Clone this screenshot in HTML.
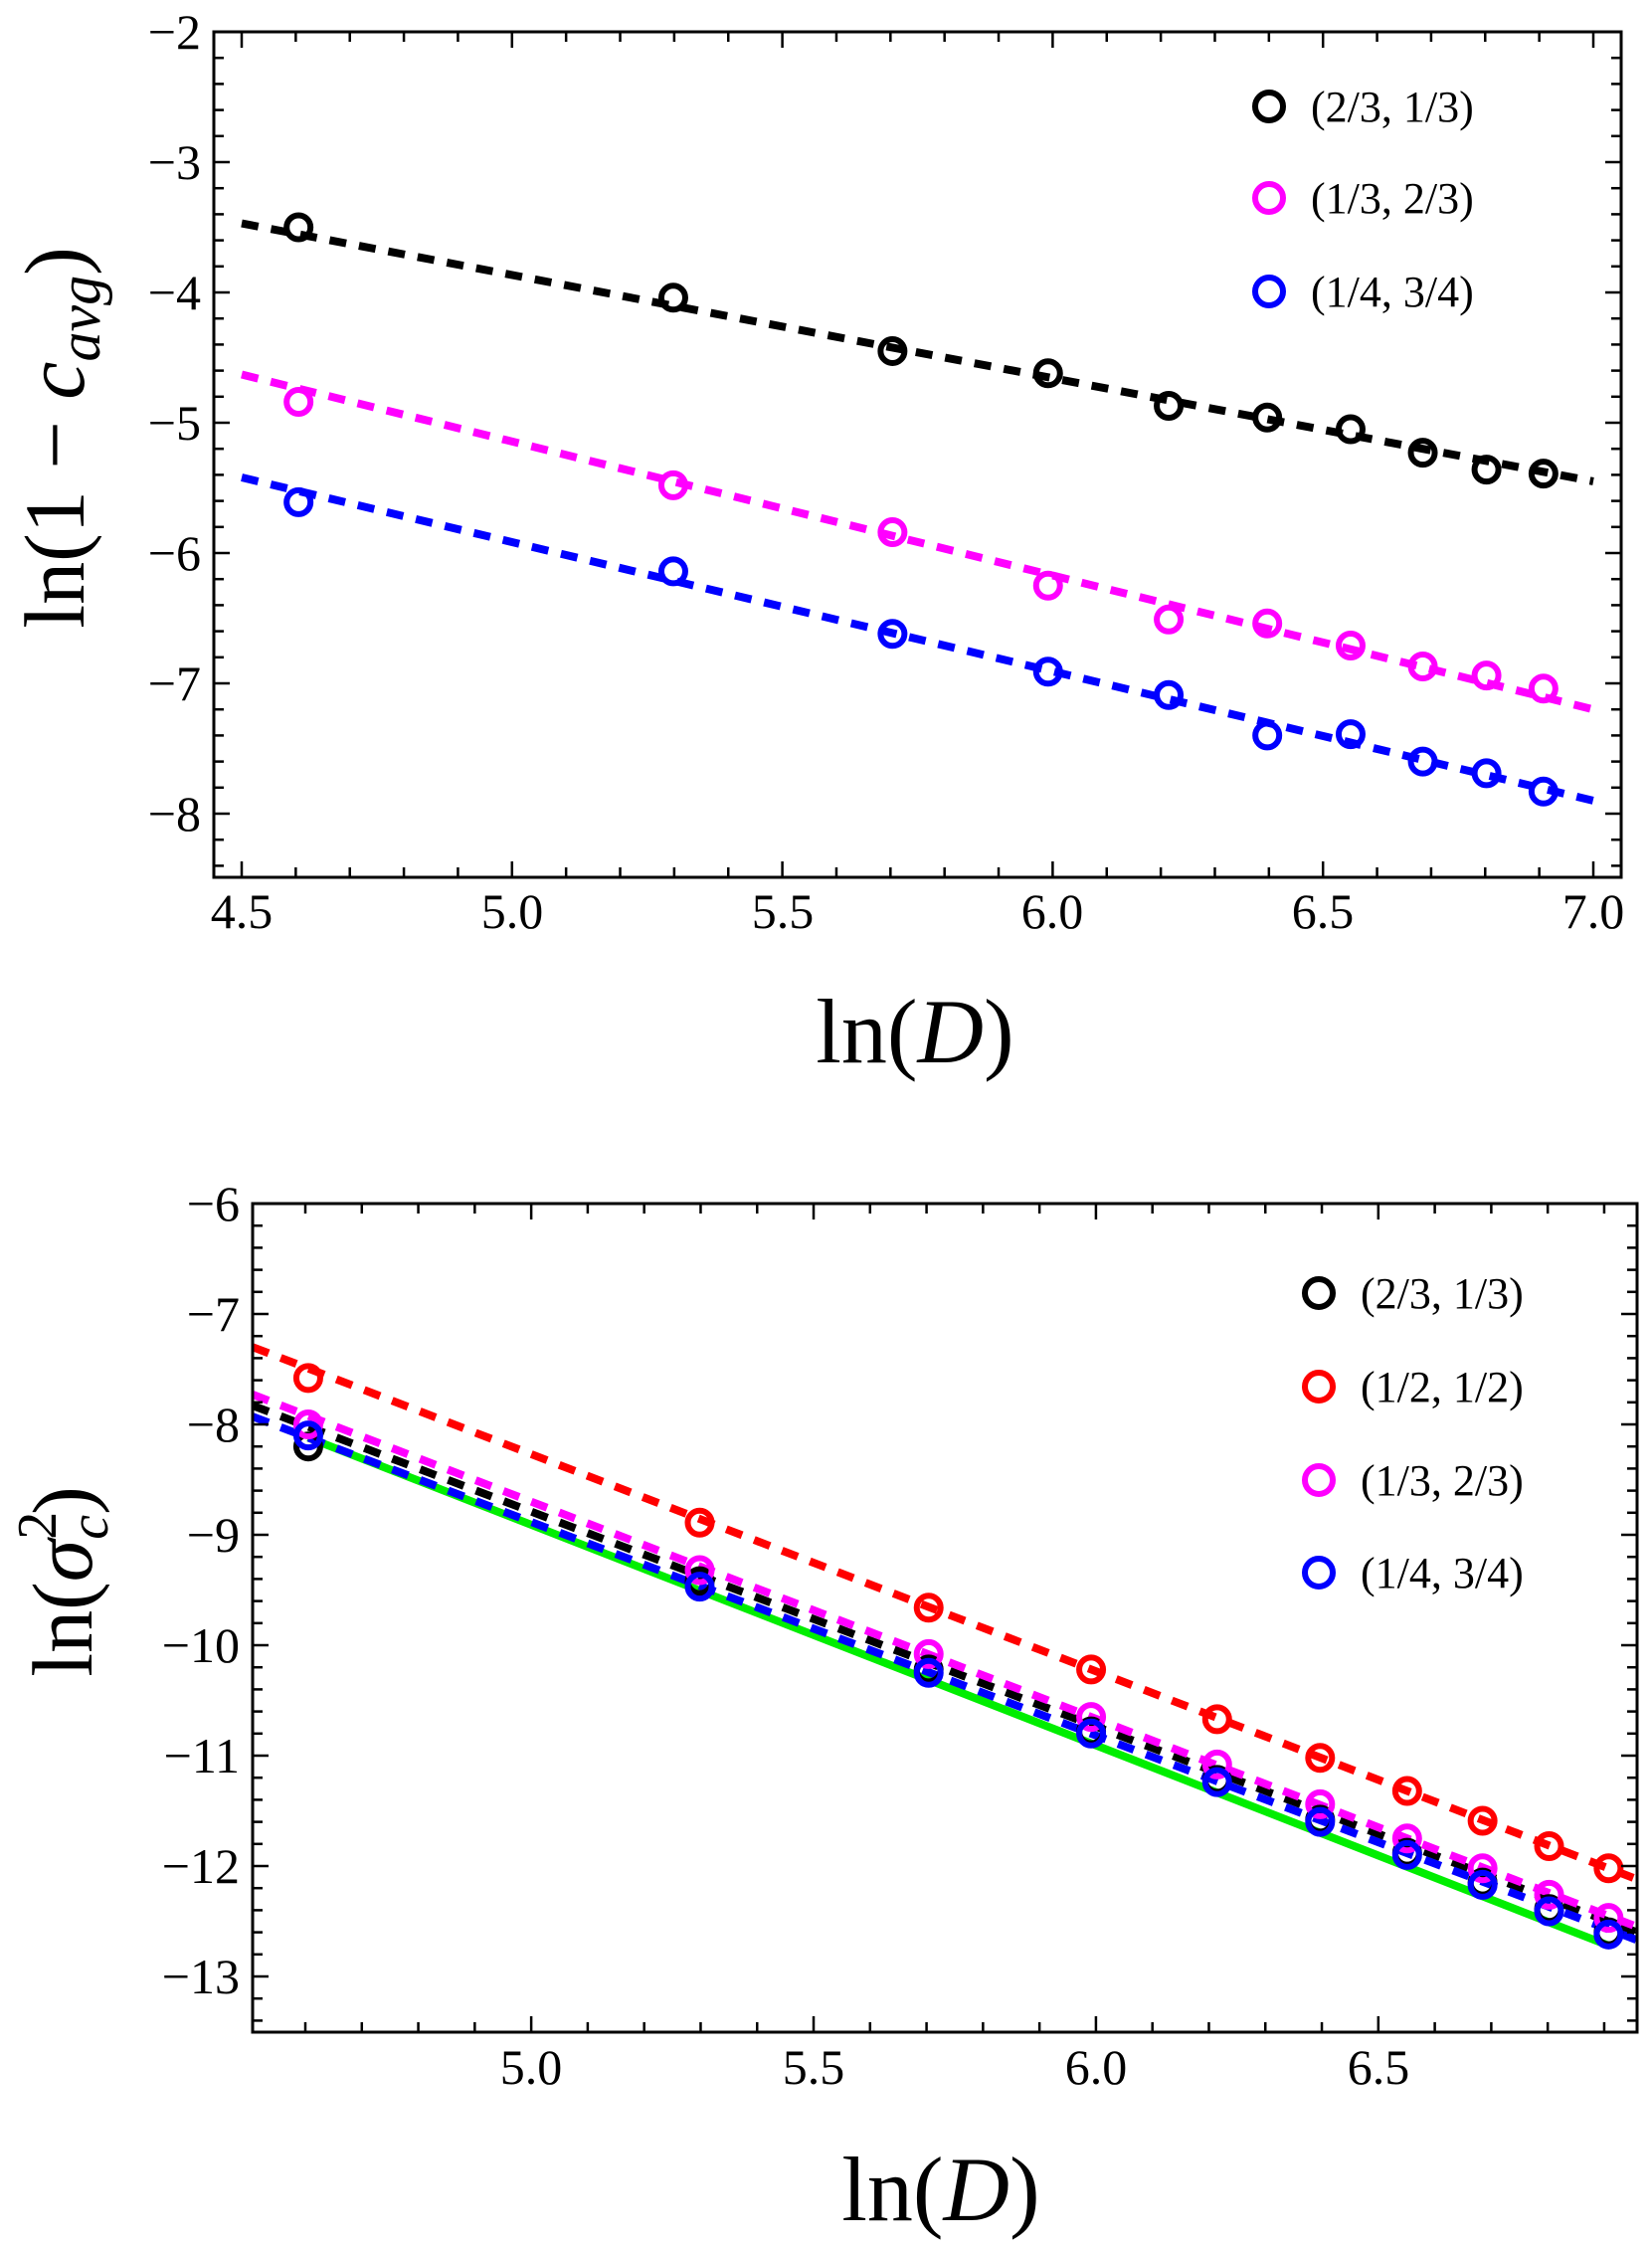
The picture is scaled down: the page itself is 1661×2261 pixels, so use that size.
<!DOCTYPE html>
<html><head><meta charset="utf-8"><style>
html,body{margin:0;padding:0;background:#fff;}
svg{display:block;}
text{font-family:"Liberation Serif",serif;fill:#000;}
</style></head><body>
<svg id="s" width="1661" height="2261" viewBox="0 0 1661 2261" xmlns="http://www.w3.org/2000/svg">
<rect width="1661" height="2261" fill="#fff"/>
<g id="p1"></g>
<g id="p2"></g>
<g font-size="50" text-anchor="end">
<text x="202" y="49">−2</text>
<text x="202" y="180">−3</text>
<text x="202" y="311">−4</text>
<text x="202" y="442">−5</text>
<text x="202" y="573">−6</text>
<text x="202" y="704">−7</text>
<text x="202" y="835">−8</text>
</g>
<g font-size="50" text-anchor="middle">
<text x="243" y="933">4.5</text>
<text x="515" y="933">5.0</text>
<text x="787" y="933">5.5</text>
<text x="1058" y="933">6.0</text>
<text x="1330" y="933">6.5</text>
<text x="1602" y="933">7.0</text>
</g>
<text x="920" y="1068" font-size="92" text-anchor="middle">ln(<tspan font-style="italic">D</tspan>)</text>
<text transform="translate(84,440) rotate(-90)" font-size="86" text-anchor="middle">ln(1 − <tspan font-style="italic">c</tspan><tspan font-style="italic" font-size="60" dy="16">avg</tspan><tspan dy="-16">)</tspan></text>
<g font-size="44">
<text x="1318" y="122">(2/3, 1/3)</text>
<text x="1318" y="214">(1/3, 2/3)</text>
<text x="1318" y="308">(1/4, 3/4)</text>
</g>
<g font-size="50" text-anchor="end">
<text x="241" y="1227">−6</text>
<text x="241" y="1338">−7</text>
<text x="241" y="1449">−8</text>
<text x="241" y="1560">−9</text>
<text x="241" y="1671">−10</text>
<text x="241" y="1782">−11</text>
<text x="241" y="1893">−12</text>
<text x="241" y="2004">−13</text>
</g>
<g font-size="50" text-anchor="middle">
<text x="534" y="2095">5.0</text>
<text x="818" y="2095">5.5</text>
<text x="1102" y="2095">6.0</text>
<text x="1386" y="2095">6.5</text>
</g>
<text x="946" y="2232" font-size="92" text-anchor="middle">ln(<tspan font-style="italic">D</tspan>)</text>
<text transform="translate(92,1590) rotate(-90)" font-size="86" text-anchor="middle">ln(<tspan font-style="italic">σ</tspan><tspan font-size="56" dy="-36">2</tspan><tspan font-style="italic" font-size="56" dx="-28" dy="52">c</tspan><tspan dy="-16">)</tspan></text>
<g font-size="44">
<text x="1368" y="1315">(2/3, 1/3)</text>
<text x="1368" y="1409">(1/2, 1/2)</text>
<text x="1368" y="1503">(1/3, 2/3)</text>
<text x="1368" y="1596">(1/4, 3/4)</text>
</g>
</svg>
<script>
var NS="http://www.w3.org/2000/svg";
function el(p,t,a){var e=document.createElementNS(NS,t);for(var k in a)e.setAttribute(k,a[k]);p.appendChild(e);return e;}
var D=[100,200,300,400,500,600,700,800,900,1000].map(Math.log);
function plot(g,L,R,T,B,xf,yf,xt,yt,lines,pts,legend){
  var gl=document.getElementById(g);
  lines.forEach(function(l){
    el(gl,"line",{x1:xf(l[0]),y1:yf(l[1]),x2:xf(l[2]),y2:yf(l[3]),stroke:l[4],"stroke-width":8,"stroke-dasharray":l[5]||"17,13"});
  });
  pts.forEach(function(p){
    p[1].forEach(function(v,i){el(gl,"circle",{cx:xf(D[i]),cy:yf(v),r:12,fill:"none",stroke:p[0],"stroke-width":6});});
  });
  legend.forEach(function(l){el(gl,"circle",{cx:l[0],cy:l[1],r:14,fill:"none",stroke:l[2],"stroke-width":6});});
  el(gl,"rect",{x:L,y:T,width:R-L,height:B-T,fill:"none",stroke:"#000","stroke-width":3});
  xt.forEach(function(t){var x=xf(t[0]),len=t[1]?16:10;
    el(gl,"line",{x1:x,y1:B,x2:x,y2:B-len,stroke:"#000","stroke-width":2.5});
    el(gl,"line",{x1:x,y1:T,x2:x,y2:T+len,stroke:"#000","stroke-width":2.5});});
  yt.forEach(function(t){var y=yf(t[0]),len=t[1]?16:10;
    el(gl,"line",{x1:L,y1:y,x2:L+len,y2:y,stroke:"#000","stroke-width":2.5});
    el(gl,"line",{x1:R,y1:y,x2:R-len,y2:y,stroke:"#000","stroke-width":2.5});});
}
var xf1=function(v){return 243+(v-4.5)*543.6;},yf1=function(v){return 32+(-2-v)*131;};
var xt=[],yt=[];
for(var i=0;i<=26;i++){var v=4.5+i*0.1;if(v<7.05)xt.push([v,i%5==0]);}
for(var i=0;i<=32;i++){var v=-2-i*0.2;yt.push([v,i%5==0]);}
plot("p1",215,1630,32,882,xf1,yf1,xt,yt,
 [[4.5,-3.47,7.0,-5.45,"#000"],[4.5,-4.63,7.0,-7.2,"#ff00ff"],[4.5,-5.42,7.0,-7.9,"#0000ff"]],
 [["#000",[-3.5,-4.04,-4.45,-4.62,-4.87,-4.96,-5.05,-5.23,-5.36,-5.39]],
  ["#ff00ff",[-4.84,-5.48,-5.84,-6.25,-6.51,-6.54,-6.71,-6.87,-6.94,-7.04]],
  ["#0000ff",[-5.61,-6.14,-6.62,-6.91,-7.09,-7.40,-7.39,-7.60,-7.69,-7.83]]],
 [[1276,107,"#000"],[1276,199,"#ff00ff"],[1276,293,"#0000ff"]]);
var xf2=function(v){return 307+(v-4.6)*567.8;},yf2=function(v){return 1210+(-6-v)*111;};
xt=[];yt=[];
for(var i=0;i<=23;i++){var v=4.6+i*0.1;xt.push([v,(i+1)%5==0]);}
for(var i=0;i<=37;i++){var v=-6-i*0.2;yt.push([v,i%5==0]);}
plot("p2",254,1646,1210,2043,xf2,yf2,xt,yt,
 [[4.605,-8.12,6.908,-12.72,"#00ee00","none"],
  [4.507,-7.3,6.958,-12.12,"#ff0000"],
  [4.507,-7.83,6.958,-12.6,"#000"],
  [4.507,-7.73,6.958,-12.55,"#ff00ff"],
  [4.507,-7.93,6.958,-12.67,"#0000ff"]],
 [["#000",[-8.2,-9.42,-10.22,-10.78,-11.22,-11.58,-11.88,-12.15,-12.39,-12.6]],
  ["#ff0000",[-7.58,-8.89,-9.66,-10.22,-10.67,-11.02,-11.32,-11.59,-11.82,-12.02]],
  ["#ff00ff",[-8.0,-9.32,-10.08,-10.65,-11.08,-11.44,-11.75,-12.02,-12.26,-12.47]],
  ["#0000ff",[-8.1,-9.47,-10.25,-10.8,-11.24,-11.6,-11.9,-12.17,-12.41,-12.62]]],
 [[1326,1300,"#000"],[1326,1394,"#ff0000"],[1326,1488,"#ff00ff"],[1326,1581,"#0000ff"]]);
</script>
</body></html>
